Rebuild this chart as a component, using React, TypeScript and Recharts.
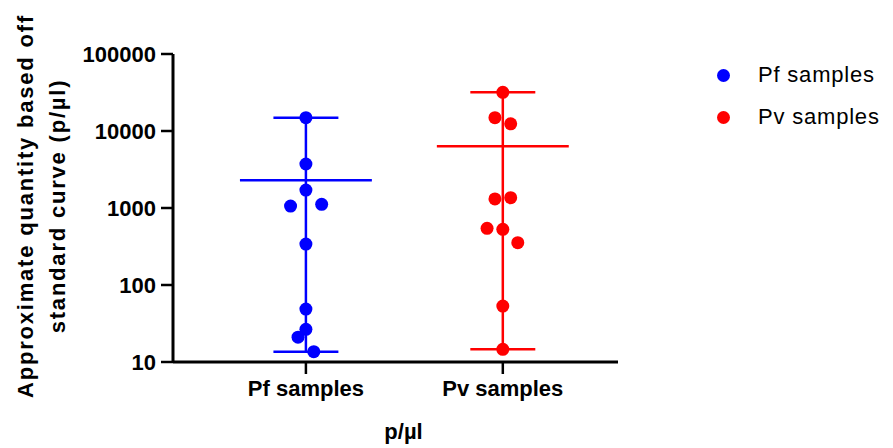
import React from "react";
import { ComposedChart, Scatter, XAxis, YAxis, ReferenceLine, Label } from "recharts";

const categories = ["Pf samples", "Pv samples"];
const pfValues = [14900, 3730, 1710, 1060, 1117, 340, 48.7, 26.6, 21, 13.6];
const pfJitter = [0, 0, 0, -0.078, 0.08, 0, 0, 0, -0.04, 0.04];
const pvValues = [31800, 14900, 12400, 1310, 1360, 545, 528, 355, 53.3, 14.6];
const pvJitter = [0, -0.04, 0.04, -0.04, 0.04, -0.08, 0, 0.076, 0, 0];
const yTicks = [10, 100, 1000, 10000, 100000];
const colors = ["#0000FF", "#FF0000"];

const FONT = "'Liberation Sans', Arial, sans-serif";

const groups = [pfValues, pvValues].map((vals, i) => {
  const jit = i === 0 ? pfJitter : pvJitter;
  const pos = i + 1;
  const mean = vals.reduce((a, b) => a + b, 0) / vals.length;
  return {
    name: categories[i],
    color: colors[i],
    pos,
    points: vals.map((v, k) => ({ x: pos + jit[k], y: v })),
    mean,
    min: Math.min(...vals),
    max: Math.max(...vals),
  };
});

const Dot = (color: string) => (props: any) => (
  <circle cx={props.cx} cy={props.cy} r={6.5} fill={color} />
);

const YTitle = (props: any) => {
  const vb = props.viewBox;
  const cy = vb.y + vb.height / 2 - 2;
  const x1 = vb.x - 48;
  const x2 = vb.x - 16;
  return (
    <g fontFamily={FONT} fontWeight="bold" fontSize={22} fill="#000">
      <text x={x1} y={cy} transform={`rotate(-90 ${x1} ${cy})`} textAnchor="middle" dominantBaseline="central" letterSpacing={1.8}>
        Approximate quantity based off
      </text>
      <text x={x2} y={cy} transform={`rotate(-90 ${x2} ${cy})`} textAnchor="middle" dominantBaseline="central" letterSpacing={1.8}>
        standard curve (p/µl)
      </text>
    </g>
  );
};

const XTitle = (props: any) => {
  const vb = props.viewBox;
  return (
    <text x={vb.x + vb.width / 2 + 8} y={vb.y + 69} textAnchor="middle" dominantBaseline="central" fontFamily={FONT} fontWeight="bold" fontSize={22} fill="#000">
      p/µl
    </text>
  );
};

export default function App() {
  return (
    <div style={{ position: "absolute", left: 0, top: 0, width: 893, height: 448, background: "#fff" }}>
      <ComposedChart width={893} height={448} margin={{ top: 54, right: 275, bottom: 36, left: 73 }} style={{ fontFamily: FONT }}>
        <XAxis
          type="number"
          dataKey="x"
          domain={[0.325, 2.585]}
          ticks={[1, 2]}
          allowDataOverflow
          height={50}
          tickFormatter={(v: number) => categories[Math.round(v) - 1]}
          tick={{ fill: "#000", fontSize: 22, fontWeight: "bold", fontFamily: FONT }}
          tickSize={12}
          tickMargin={6}
          tickLine={{ stroke: "#000", strokeWidth: 2.5 }}
          axisLine={{ stroke: "#000", strokeWidth: 3 }}
        >
          <Label content={XTitle} />
        </XAxis>
        <YAxis
          type="number"
          dataKey="y"
          scale="log"
          domain={[10, 100000]}
          ticks={yTicks}
          allowDataOverflow
          width={100}
          tick={{ fill: "#000", fontSize: 22, fontWeight: "bold", fontFamily: FONT }}
          tickSize={12}
          tickMargin={5}
          tickLine={{ stroke: "#000", strokeWidth: 2.5 }}
          axisLine={{ stroke: "#000", strokeWidth: 3 }}
        >
          <Label content={YTitle} />
        </YAxis>
        {groups.map((g) => (
          <ReferenceLine key={g.name + "r"} segment={[{ x: g.pos, y: g.min }, { x: g.pos, y: g.max }]} stroke={g.color} strokeWidth={2.5} ifOverflow="visible" />
        ))}
        {groups.map((g) => (
          <ReferenceLine key={g.name + "lo"} segment={[{ x: g.pos - 0.165, y: g.min }, { x: g.pos + 0.165, y: g.min }]} stroke={g.color} strokeWidth={2.5} ifOverflow="visible" />
        ))}
        {groups.map((g) => (
          <ReferenceLine key={g.name + "hi"} segment={[{ x: g.pos - 0.165, y: g.max }, { x: g.pos + 0.165, y: g.max }]} stroke={g.color} strokeWidth={2.5} ifOverflow="visible" />
        ))}
        {groups.map((g) => (
          <ReferenceLine key={g.name + "m"} segment={[{ x: g.pos - 0.335, y: g.mean }, { x: g.pos + 0.335, y: g.mean }]} stroke={g.color} strokeWidth={2.5} ifOverflow="visible" />
        ))}
        {groups.map((g) => (
          <Scatter key={g.name} name={g.name} data={g.points} fill={g.color} shape={Dot(g.color)} isAnimationActive={false} />
        ))}
      </ComposedChart>
      <div style={{ position: "absolute", left: 717, top: 54, fontFamily: FONT, fontSize: 22, color: "#000" }}>
        {groups.map((g) => (
          <div key={g.name} style={{ display: "flex", alignItems: "center", height: 42 }}>
            <span style={{ width: 13, height: 13, borderRadius: "50%", background: g.color, display: "inline-block" }} />
            <span style={{ marginLeft: 28, letterSpacing: 0.8, lineHeight: "32px" }}>{g.name}</span>
          </div>
        ))}
      </div>
    </div>
  );
}
